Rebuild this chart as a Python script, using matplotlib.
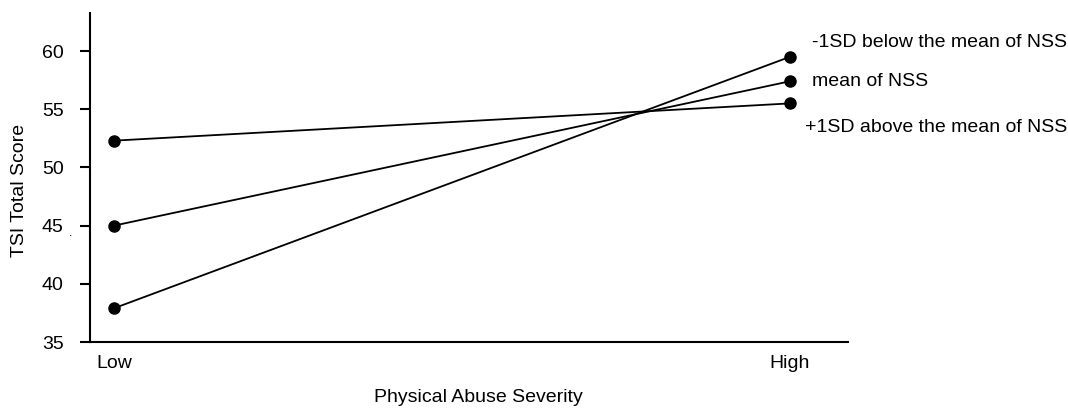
import matplotlib.pyplot as plt

plt.rcParams['font.family'] = ['Liberation Sans', 'DejaVu Sans']

levels = ['Low', 'High']
below_mean = [37.9, 59.5]    # -1SD below the mean of NSS
mean_nss = [45.0, 57.4]      # mean of NSS
above_mean = [52.3, 55.5]    # +1SD above the mean of NSS
series_labels = ['-1SD below the mean of NSS', 'mean of NSS', '+1SD above the mean of NSS']
yticks = [35, 40, 45, 50, 55, 60]

fig = plt.figure(figsize=(10.68, 4.09), dpi=100)
ax = fig.add_axes([0.0843, 0.1638, 0.7097, 0.8042])

x = [0, 1]
for ys in (below_mean, mean_nss, above_mean):
    ax.plot(x, ys, 'k-', lw=1.3, marker='o', ms=8, clip_on=False)

# line labels to the right of the High end
ax.text(1.0325, 60.7, series_labels[0], fontsize=14, va='center', ha='left', clip_on=False)
ax.text(1.0325, 57.35, series_labels[1], fontsize=14, va='center', ha='left', clip_on=False)
ax.text(1.022, 53.4, series_labels[2], fontsize=14, va='center', ha='left', clip_on=False)

ax.set_xlim(-0.0355, 1.086)
ax.set_ylim(35, 63.26)
ax.set_xticks(x)
ax.set_xticklabels(levels)
ax.set_yticks(yticks)

ax.spines['top'].set_visible(False)
ax.spines['right'].set_visible(False)
ax.spines['left'].set_linewidth(1.5)
ax.spines['bottom'].set_linewidth(1.5)
ax.tick_params(axis='x', length=0, pad=9, labelsize=14)
ax.tick_params(axis='y', length=7, width=1.5, pad=12, labelsize=14)

fig.text(0.0187, 0.535, 'TSI Total Score', rotation=90, fontsize=14, ha='center', va='center')
fig.text(0.448, 0.027, 'Physical Abuse Severity', fontsize=14, ha='center', va='center')
fig.text(0.066, 0.43, '.', fontsize=9, ha='center', va='center')

fig.savefig('out.png', dpi=100)
